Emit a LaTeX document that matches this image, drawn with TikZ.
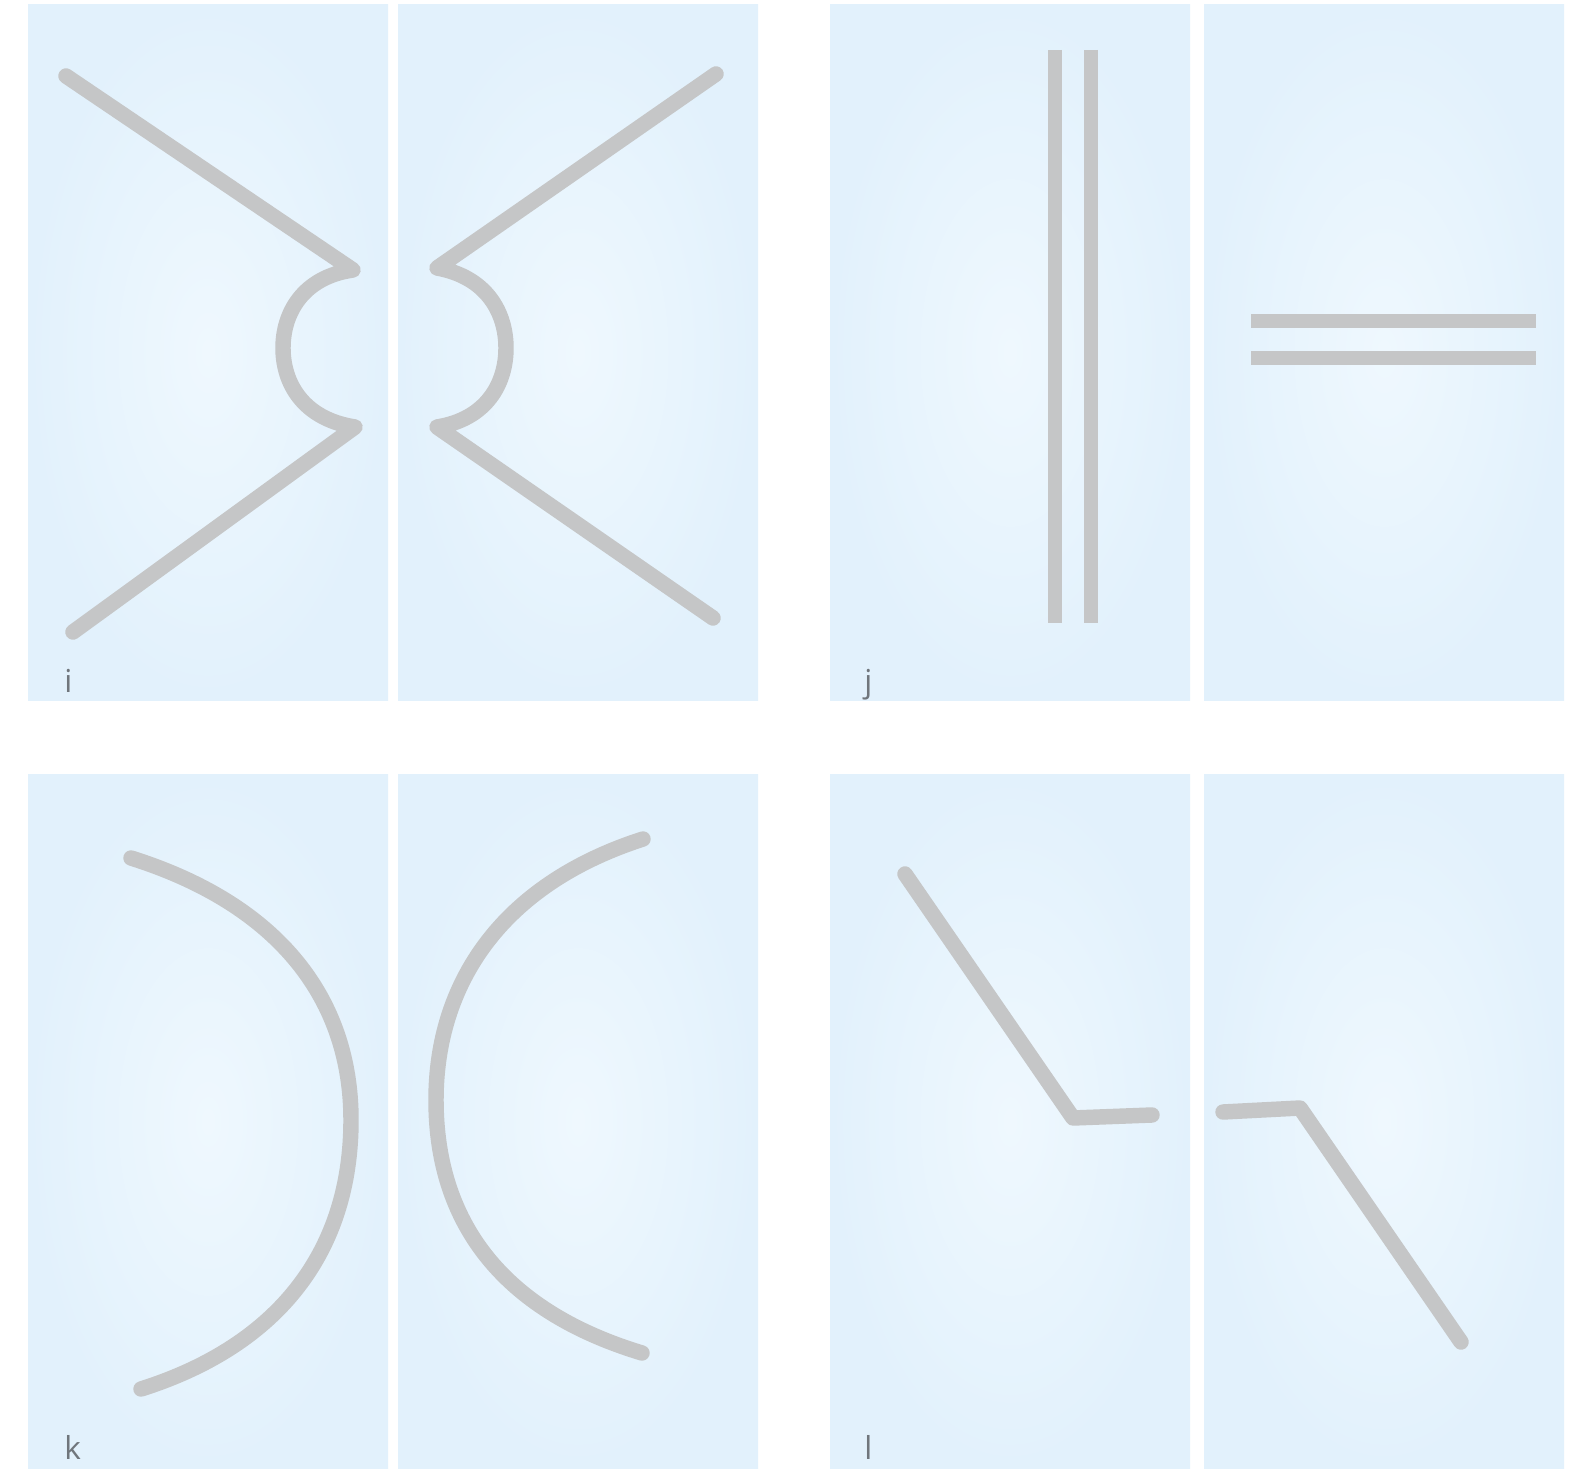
\documentclass[tikz,border=0pt]{standalone}
\usepackage{fontspec}
\setsansfont{Open Sans}
\definecolor{panelin}{RGB}{239,248,254}
\definecolor{panelout}{RGB}{226,241,252}
\definecolor{wire}{RGB}{197,198,199}
\definecolor{tagtext}{RGB}{112,118,124}

\begin{document}
\begin{tikzpicture}[
	x=0.02cm, y=-0.02cm,
	panel/.style={inner color=panelin, outer color=panelout},
	wire/.style={draw=wire, line width=8.8pt, line cap=round, line join=round},
	bar/.style={draw=wire, line width=8pt, line cap=butt},
	tag/.style={font=\fontsize{18}{21}\selectfont\sffamily, text=tagtext,
		inner sep=0pt, anchor=base west},
	]
	
	\useasboundingbox[fill=white] (0,0) rectangle (1582,1469);
	
	% panels, two per case
	\foreach \px in {28, 398, 830, 1204} {
		\shade[panel] (\px,5)   rectangle ++(360,695);
		\shade[panel] (\px,774) rectangle ++(360,695);
	}
	
	% case i
	\draw[wire] (66,76) -- (353,270)
		.. controls (303,277) and (283,313) .. (283,348)
		.. controls (283,383) and (303,419) .. (355,427) -- (73,632);
	\draw[wire] (716,74) -- (437,268)
		.. controls (487,277) and (506,313) .. (506,348)
		.. controls (506,383) and (487,419) .. (437,427) -- (713,618);
	
	% case j
	\draw[bar] (1055,50) -- (1055,623);
	\draw[bar] (1091,50) -- (1091,623);
	\draw[bar] (1251,321) -- (1536,321);
	\draw[bar] (1251,358) -- (1536,358);
	
	% case k
	\draw[wire] (131,858) .. controls (280,905) and (351,1000) .. (351,1120)
		.. controls (351,1250) and (280,1345) .. (141,1389);
	\draw[wire] (643,839) .. controls (500,885) and (436,985) .. (436,1100)
		.. controls (436,1220) and (500,1310) .. (642,1353);
	
	% case l
	\draw[wire] (905,874) -- (1073,1118) -- (1152,1115);
	\draw[wire] (1223,1112) -- (1300,1108) -- (1461,1342);
	
	% case letters
	\node[tag] (tagi) at (64,692)   {i};
	\node[tag] (tagj) at (864,692)  {j};
	\node[tag] (tagk) at (64,1459)  {k};
	\node[tag] (tagl) at (864,1459) {l};
	
\end{tikzpicture}
\end{document}
